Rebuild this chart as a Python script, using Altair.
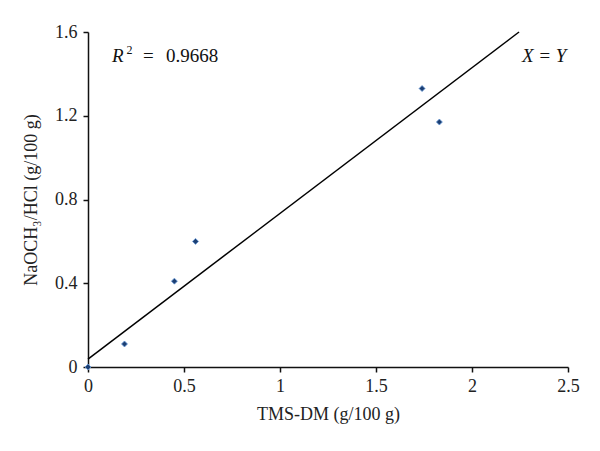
import altair as alt
import pandas as pd

# Data
tms_dm = [0.0, 0.19, 0.45, 0.56, 1.74, 1.83]
naoch3 = [0.0, 0.11, 0.41, 0.60, 1.33, 1.17]

line_x = [0.0, 2.245]
line_y = [0.038, 1.6]

x_ticks = [0, 0.5, 1, 1.5, 2, 2.5]
y_ticks = [0, 0.4, 0.8, 1.2, 1.6]

pts = pd.DataFrame({"x": tms_dm, "y": naoch3})
ln = pd.DataFrame({"x": line_x, "y": line_y})

FONT = "Liberation Serif"
FS = 18

xscale = alt.Scale(domain=[0, 2.5], nice=False, zero=True)
yscale = alt.Scale(domain=[0, 1.6], nice=False, zero=True)

common = dict(grid=False, labelFont=FONT, labelFontSize=FS, titleFont=FONT, titleFontSize=FS,
              titleFontWeight="normal", labelColor="#222", titleColor="#222",
              domainColor="#111", tickColor="#111", domainWidth=1.5, tickWidth=1.5,
              tickSize=5, labelFlush=False)

xaxis = alt.Axis(values=x_ticks, title="TMS-DM (g/100 g)", labelPadding=5, titlePadding=10,
                 labelExpr="format(datum.value, '~g')", **common)
yaxis = alt.Axis(values=y_ticks, title="NaOCH₃/HCl (g/100 g)", labelPadding=6, titlePadding=14,
                 labelExpr="datum.value == 0 ? '0' : format(datum.value, '.1f')", **common)

line = alt.Chart(ln).mark_line(color="#000", strokeWidth=1.5).encode(
    x=alt.X("x:Q", scale=xscale, axis=xaxis),
    y=alt.Y("y:Q", scale=yscale, axis=yaxis),
)

points = alt.Chart(pts).mark_point(shape="diamond", filled=True, size=36,
                                   color="#1c3f73", stroke="#6a9bd8",
                                   strokeWidth=0.8, opacity=1).encode(
    x="x:Q", y="y:Q"
)

ann = pd.DataFrame({
    "x": [0.125, 0.2, 0.286, 0.406, 2.26],
    "y": [1.486, 1.515, 1.486, 1.486, 1.486],
    "t": ["R", "2", "=", "0.9668", "X = Y"],
})

def txt(i, size, style="normal"):
    return alt.Chart(ann.iloc[[i]]).mark_text(font=FONT, fontSize=size, fontStyle=style,
                                               align="left", baseline="middle", color="#111").encode(
        x="x:Q", y="y:Q", text="t:N")

AF = 19
chart = alt.layer(line, points, txt(0, AF, "italic"), txt(1, 12), txt(2, AF), txt(3, AF),
                  txt(4, AF, "italic")).properties(
    width=480, height=335,
    autosize=alt.AutoSizeParams(type="none"),
    padding={"left": 80, "top": 24, "right": 24, "bottom": 84},
    background="white",
).configure_view(stroke=None)

chart.save("out.html", embed_options={"renderer": "svg", "actions": False})
